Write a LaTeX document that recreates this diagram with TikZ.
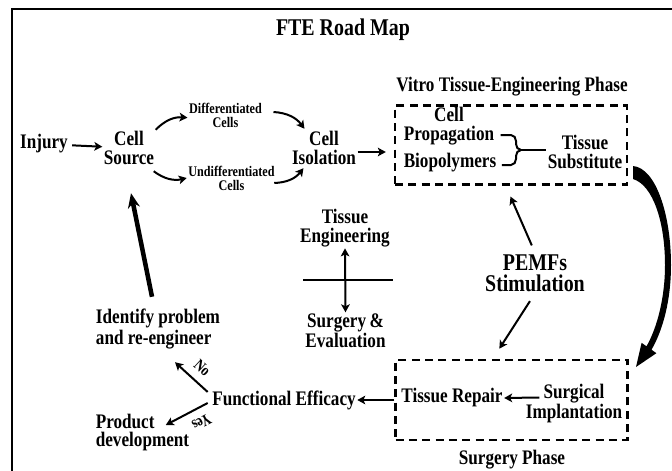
\documentclass[tikz,border=0pt]{standalone}
\usepackage{fontspec}
\setmainfont{Liberation Serif}[FakeStretch=0.83]
\usetikzlibrary{arrows.meta}

\tikzset{
  lbl/.style={font=\fontsize{15.5}{14}\selectfont\bfseries, align=center, inner sep=1pt},
  lblsmall/.style={font=\fontsize{11}{10.5}\selectfont\bfseries, align=center, inner sep=1pt},
  lblbig/.style={font=\fontsize{18}{16}\selectfont\bfseries, align=center, inner sep=1pt},
  lblyn/.style={font=\fontsize{12}{12}\selectfont\bfseries, inner sep=1pt},
  phasebox/.style={draw, line width=1.8pt, dash pattern=on 6pt off 4pt, minimum width=174pt, minimum height=59pt},
  arr/.style={->, line width=1.5pt},
  thickarr/.style={-{Stealth[length=11pt,width=9pt]}, line width=3.4pt},
}

\begin{document}
\begin{tikzpicture}[x=0.75pt, y=-0.75pt, >={Stealth[length=6pt,width=6.5pt,inset=1.5pt]}]
  \useasboundingbox (0,0) rectangle (672,471);
  % Frame
  \draw[line width=2.2pt] (12,471) -- (12,9) -- (672,9);
  \node[lblbig] (title) at (343,30) {FTE Road Map};

  % Cell sourcing
  \node[lbl] (injury) at (44,144) {Injury};
  \node[lbl] (source) at (129,148) {Cell\\Source};
  \node[lblsmall] (diff) at (225.5,115) {Differentiated\\Cells};
  \node[lblsmall] (undiff) at (231.5,178) {Undifferentiated\\Cells};
  \node[lbl] (isolation) at (324,148) {Cell\\Isolation};

  \draw[arr, shorten <=2pt] (injury) -- (source);
  \draw[arr] (source.north east) to[bend left=25] ([yshift=-2pt]diff.west);
  \draw[arr] ([shift={(10,-3)}]diff.east) to[bend left=25] ([shift={(14,-1)}]isolation.north west);
  \draw[arr] ([shift={(-2,5)}]source.south east) to[bend right=25] (undiff.west);
  \draw[arr] ([shift={(-2,5)}]undiff.east) to[bend right=25] ([shift={(13,2)}]isolation.south west);

  % Vitro phase
  \node[lbl] (vitrolbl) at (512,87) {Vitro Tissue-Engineering Phase};
  \node[phasebox] (vitrobox) at (511,145) {};
  \node[lbl] (propagation) at (449,126) {Cell\\Propagation};
  \node[lbl] (biopolymers) at (450,163) {Biopolymers};
  \node[lbl] (substitute) at (585,152) {Tissue\\Substitute};
  \draw[arr, shorten >=6pt] ([yshift=-3pt]isolation.east) -- ([yshift=-3pt]isolation.east -| vitrobox.west);

  % Brace
  \coordinate (brace) at (521,150);
  \draw[line width=1.5pt] ([shift={(5,9)}]propagation.east) -- (511,135) to[out=0,in=90] (516,141)
    -- (516,144) to[out=-90,in=180] (brace);
  \draw[line width=1.5pt] ([shift={(4,2)}]biopolymers.east) -- (511,165) to[out=0,in=-90] (516,159)
    -- (516,156) to[out=90,in=180] (brace);
  \draw[line width=1.5pt] (brace) -- (substitute.west |- brace);

  % Surgery phase
  \node[phasebox, minimum height=60pt] (surgbox) at (511.5,400) {};
  \node[lbl] (surgerylbl) at (512,460) {Surgery Phase};
  \node[lbl] (repair) at (452,398) {Tissue Repair};
  \node[lbl] (implant) at (574,403.5) {Surgical\\Implantation};
  \draw[arr] ([shift={(15,-6)}]implant.west) -- (repair.east);

  % Centre cross
  \node[lbl] (teng) at (345,228) {Tissue\\Engineering};
  \node[lbl] (seval) at (345.5,331) {Surgery\,\&\\Evaluation};
  \coordinate (crossL) at (303,280);
  \coordinate (crossR) at (393,280);
  \draw[line width=2.2pt] (crossL) -- (crossR);
  \draw[arr, <->] (teng.south) -- (seval.north);

  % Stimulation
  \node[lblbig] (pemfs) at (535,273) {PEMFs\\Stimulation};
  \draw[arr, shorten <=6pt, shorten >=9pt] (pemfs.north) -- ([xshift=-4pt]vitrobox.south);
  \draw[arr, shorten <=7pt, shorten >=9pt] (pemfs.south) -- ([xshift=-14pt]surgbox.north);

  % Evaluation
  \node[lbl] (functional) at (284,400) {Functional Efficacy};
  \node[lbl, align=left] (identify) at (158,329) {Identify problem\\and re-engineer};
  \node[lbl, align=left] (product) at (142.5,432.5) {Product\\development};
  \draw[arr] (surgbox.west) -- (functional.east);
  \draw[arr] ([shift={(-3,-8)}]functional.west) -- ([shift={(17,12)}]identify.south)
    node[pos=0.46, sloped, above=5pt, lblyn] {No};
  \draw[arr] ([shift={(-3,3)}]functional.west) -- ([shift={(-25,-7.5)}]product.east)
    node[pos=0.3, sloped, allow upside down, above=5pt, lblyn] {Yes};
  \draw[thickarr] ([shift={(-6,-11)}]identify.north) -- ([shift={(2,27)}]source.south);

  % Big curved arrow
  \fill (633,166) .. controls (656,168) and (671,215) .. (671,265)
    .. controls (671,300) and (663,330) .. (651.5,349.7) -- (656.4,353.2) -- (636,367)
    -- (641.6,342.8) -- (646.5,346.3) .. controls (657,328) and (665,298) .. (665,265)
    .. controls (665,222) and (653,185) .. (633,179) -- cycle;
\end{tikzpicture}
\end{document}
